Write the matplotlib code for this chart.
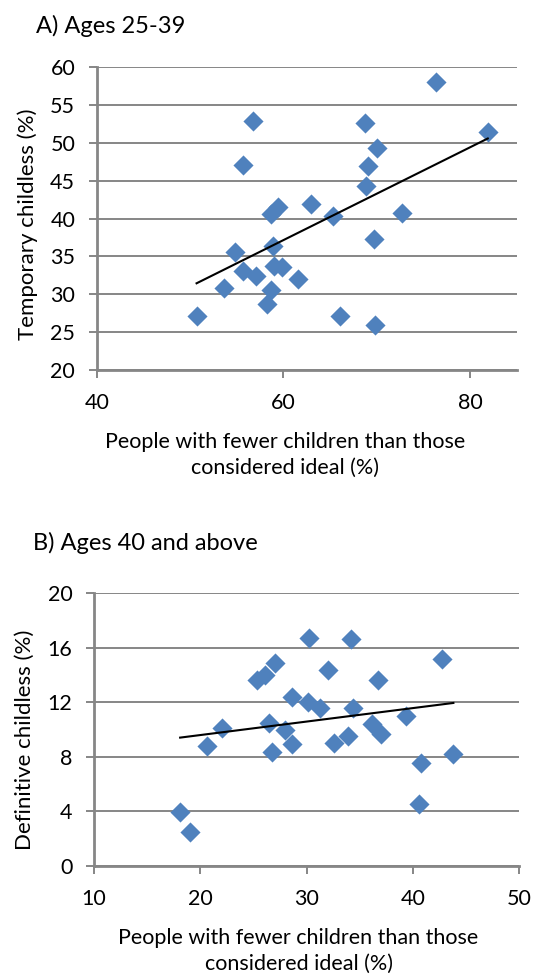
import matplotlib.pyplot as plt
import numpy as np

plt.rcParams['font.family'] = ['Lato', 'DejaVu Sans']

# Panel A: ages 25-39
a_x = [76.4, 56.7, 68.7, 81.9, 70.0, 55.7, 69.1, 68.9, 59.4, 58.7, 63.0, 65.3, 72.7, 69.7,
       58.9, 54.8, 59.0, 59.9, 55.7, 57.1, 61.6, 53.6, 58.7, 58.2, 50.7, 66.1, 69.8]
a_y = [58.0, 52.9, 52.6, 51.5, 49.4, 47.1, 47.0, 44.3, 41.6, 40.6, 42.0, 40.3, 40.8, 37.3,
       36.4, 35.6, 33.8, 33.6, 33.1, 32.4, 32.0, 30.9, 30.6, 28.7, 27.1, 27.1, 25.9]

# Panel B: ages 40 and above
b_x = [18.1, 19.0, 20.6, 22.0, 25.3, 26.1, 27.0, 26.5, 26.7, 28.0, 28.6, 28.6, 30.2, 30.1,
       31.3, 32.0, 32.6, 33.9, 34.2, 34.4, 36.1, 36.7, 37.0, 39.3, 40.75, 40.6, 42.7, 43.8]
b_y = [3.97, 2.45, 8.8, 10.1, 13.6, 14.0, 14.9, 10.5, 8.35, 10.0, 12.4, 8.9, 16.7, 12.0,
       11.55, 14.4, 9.0, 9.5, 16.65, 11.6, 10.4, 13.6, 9.67, 11.0, 7.56, 4.55, 15.15, 8.2]

xlabel = "People with fewer children than those\nconsidered ideal (%)"
blue = '#4F81BD'
gray = '#868686'

W, H = 537, 974
fig = plt.figure(figsize=(W / 100, H / 100), dpi=100)


def panel(rect, xs, ys, xlim, xticks, ylim, yticks, ylabel, title, title_pos,
          ylab_xy, xlab_xy):
    l, t, r, b = rect
    ax = fig.add_axes([l / W, 1 - b / H, (r - l) / W, (b - t) / H])
    ax.scatter(xs, ys, marker='D', s=105, color=blue, zorder=3, linewidths=0)
    # linear trendline
    k, c = np.polyfit(xs, ys, 1)
    xx = np.array([min(xs), max(xs)])
    ax.plot(xx, k * xx + c, color='black', lw=1.5, zorder=4)
    ax.set_xlim(*xlim)
    ax.set_ylim(*ylim)
    ax.set_xticks(xticks)
    ax.set_yticks(yticks)
    ax.grid(axis='y', color=gray, lw=1.4)
    ax.set_axisbelow(True)
    for s in ['top', 'right']:
        ax.spines[s].set_visible(False)
    for s in ['left', 'bottom']:
        ax.spines[s].set_color(gray)
        ax.spines[s].set_linewidth(2)
    ax.tick_params(colors=gray, width=1.4, length=5.5, labelcolor='black', labelsize=15.5)
    ax.tick_params(axis='y', pad=10)
    ax.tick_params(axis='x', pad=11)
    ax.set_ylabel(ylabel, fontsize=16, va='center')
    ax.yaxis.set_label_coords(*ylab_xy)
    ax.set_xlabel(xlabel, fontsize=15.5, linespacing=1.35, va='center')
    ax.xaxis.set_label_coords(*xlab_xy)
    fig.text(title_pos[0] / W, 1 - title_pos[1] / H, title, fontsize=17, va='baseline')
    return ax


panel((96.7, 67.3, 516.7, 370), a_x, a_y, (40, 85), [40, 60, 80], (20, 60),
      range(20, 61, 5), "Temporary childless (%)", "A) Ages 25-39", (36, 33),
      (-0.165, 0.482), (0.448, -0.281))
panel((94, 593.3, 519.3, 865.7), b_x, b_y, (10, 50), [10, 20, 30, 40, 50], (0, 20),
      range(0, 21, 4), "Definitive childless (%)", "B) Ages 40 and above", (33, 550),
      (-0.162, 0.461), (0.481, -0.313))

fig.savefig('out.png', dpi=100)
